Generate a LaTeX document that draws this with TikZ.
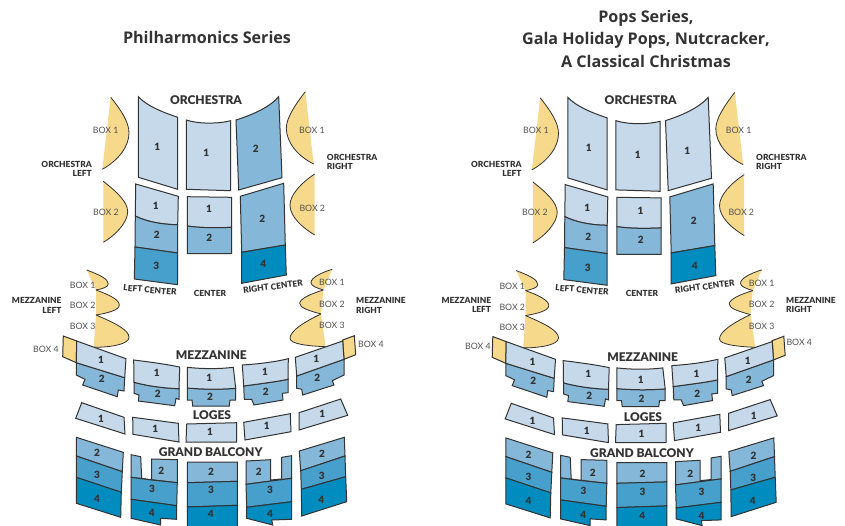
\documentclass[tikz,border=0pt]{standalone}
\usepackage{fontspec}
\setmainfont{Lato}[BoldFont={Lato Black}]
\newfontfamily\titlefont{Open Sans}

\definecolor{seatline}{HTML}{333333}
\definecolor{tierone}{HTML}{C5D9EB}
\definecolor{tiertwo}{HTML}{85B7D9}
\definecolor{tierthree}{HTML}{479FCB}
\definecolor{tierfour}{HTML}{008CBF}
\definecolor{boxfill}{HTML}{F6D98B}

\tikzset{
	seat/.style={draw=seatline,line width=1pt,fill=#1},
	boxline/.style={draw=seatline,line width=0.8pt},
	num/.style={font=\bfseries\fontsize{10}{10}\selectfont,text=seatline,inner sep=0pt},
	boxlabel/.style={font=\fontsize{8.8}{8}\selectfont,text=seatline!85,inner sep=0pt},
	seclabel/.style={font=\bfseries\fontsize{8.4}{9.8}\selectfont,text=seatline,inner sep=0pt},
	headlabel/.style={font=\bfseries\fontsize{12}{12}\selectfont,text=seatline,inner sep=0pt},
	title/.style={font=\titlefont\bfseries\fontsize{16.1}{22.5}\selectfont,text=seatline,inner sep=0pt,align=center},
}

% fill is closed, the outline stays on the curved side only
\newcommand{\boxseat}[1]{\fill[boxfill] #1 -- cycle; \draw[boxline] #1;}

% #1 colour of orchestra right, #2 its number, #3 offset of the numbers (also names them)
\newcommand{\seatchart}[3]{
	% orchestra
	\boxseat{(110.7,97.3) .. controls (121,110) and (129,122) .. (129,133) .. controls (129,146) and (119,160) .. (102.3,169.3)}
	\boxseat{(103.3,181.3) .. controls (117,192) and (127.7,202) .. (127.7,211.7) .. controls (127.7,222) and (116,235) .. (103.3,242.3)}
	\boxseat{(305.3,91.7) .. controls (295,105) and (286.3,118) .. (286.3,128.3) .. controls (286.3,143) and (299,157) .. (313.7,164)}
	\boxseat{(314.7,174) .. controls (301,183) and (290,195) .. (290,205) .. controls (290,217) and (303,228) .. (314.7,235)}
	\draw[seat=tierone] (138.3,96.7) .. controls (147,106) and (162,112) .. (177.7,117.3) -- (177.7,189.3) -- (138.3,177.3) -- cycle;
	\draw[seat=tierone] (186.3,120) .. controls (198,124) and (218,124) .. (230.7,120.7) -- (230.7,190.7) -- (186.3,189.3) -- cycle;
	\draw[seat=#1] (236,120) .. controls (252,115) and (270,107) .. (278.7,96.7) -- (282,177.7) -- (238.7,190) -- cycle;
	\draw[seat=tierone] (135.7,184) -- (178.3,196.3) -- (177.7,224.7) .. controls (160,224.5) and (145,221) .. (135.3,216) -- cycle;
	\draw[seat=tiertwo] (135.3,216) .. controls (145,221) and (160,224.5) .. (177.7,224.7) -- (177.7,253) -- (135,247) -- cycle;
	\draw[seat=tierthree] (135,247) -- (177.7,253) -- (177.7,284.7) -- (134.3,279) -- cycle;
	\draw[seat=tierone] (187.3,196.7) -- (231.7,197.3) -- (231.7,227.3) .. controls (217,228) and (200,228) .. (187.3,226) -- cycle;
	\draw[seat=tiertwo] (187.3,226) .. controls (200,228) and (217,228) .. (231.7,227.3) -- (231.7,253.7) -- (187.3,253.7) -- cycle;
	\draw[seat=tiertwo] (240.3,196.3) -- (283.7,183.3) -- (285.3,245) -- (241.7,252.3) -- cycle;
	\draw[seat=tierfour] (241.7,252.3) -- (285.3,245) -- (286.3,275) -- (241.7,283.3) -- cycle;
	% mezzanine
	\boxseat{(86.7,270) .. controls (100,275) and (108.3,279) .. (108.3,284) .. controls (108.3,287) and (102,289) .. (96,290)}
	\boxseat{(96,290) .. controls (110,295) and (119.3,300) .. (119.3,305) .. controls (119.3,310) and (108,313) .. (96,315)}
	\boxseat{(96,315) .. controls (115,323) and (129,330) .. (129,337.3) .. controls (129,344) and (112,347.3) .. (93.7,347.3)}
	\boxseat{(332.3,269.3) .. controls (320,273) and (311,278) .. (311,282.7) .. controls (311,286) and (317,288) .. (323.3,290)}
	\boxseat{(323.3,290) .. controls (310,294) and (299.7,299) .. (299.7,303.3) .. controls (299.7,308) and (310,311) .. (321,314)}
	\boxseat{(321,314) .. controls (304,322) and (290,331) .. (290,338.3) .. controls (290,344) and (308,346) .. (325.7,346.7)}
	\draw[seat=boxfill] (63.3,336) -- (76.7,341) -- (76.3,362.7) -- (62.7,356.7) -- cycle;
	\draw[seat=boxfill] (342.7,340) -- (354.3,335.7) -- (355.7,354.7) -- (344,359.3) -- cycle;
	\draw[seat=tiertwo] (76.3,362.7) -- (124.7,377.7) -- (124,391) -- (118.3,390) -- (117.3,396.7) -- (82.7,385) -- (85,379.3) -- (76.3,375) -- cycle;
	\draw[seat=tierone] (76.7,341) -- (126,358.7) -- (124.7,377.7) -- (76.3,362.7) -- cycle;
	\draw[seat=tiertwo] (134,382.3) .. controls (148,386) and (162,388) .. (179,388.7) -- (179,399.3) -- (176,398.3) -- (174.7,405.7) -- (138.3,401) -- (139,395) -- (134,393.3) -- cycle;
	\draw[seat=tierone] (133.7,360) .. controls (150,362) and (165,364) .. (179.7,367) -- (179,388.7) .. controls (162,388) and (148,386) .. (134,382.3) -- cycle;
	\draw[seat=tiertwo] (187.3,388) .. controls (205,389.5) and (220,389.5) .. (235.7,388.3) -- (235.7,400) -- (230,400) -- (229.3,406) -- (192.7,406) -- (192,400) -- (187.3,400) -- cycle;
	\draw[seat=tierone] (187.3,367.3) .. controls (202,369) and (220,369) .. (233.3,367.3) -- (235.7,388.3) .. controls (220,389.5) and (205,389.5) .. (187.3,388) -- cycle;
	\draw[seat=tiertwo] (243.7,386) .. controls (258,384) and (275,382) .. (288,379.3) -- (288,392.7) -- (282.3,393.3) -- (283,400) -- (254,405) -- (251.7,399.3) -- (244.3,399.3) -- cycle;
	\draw[seat=tierone] (242.3,365) .. controls (258,364) and (275,362) .. (288.3,358.7) -- (288,379.3) .. controls (275,382) and (258,384) .. (243.7,386) -- cycle;
	\draw[seat=tiertwo] (296.7,376) -- (344,359.3) -- (344,375) -- (332.3,380.7) -- (334,385) -- (302.7,395) -- (301.7,389.3) -- (296.7,388.3) -- cycle;
	\draw[seat=tierone] (295.3,357.3) -- (342.7,341) -- (344,359.3) -- (296.7,376) -- cycle;
	% loges
	\draw[seat=tierone] (81.7,402.7) -- (124,417.3) -- (125,434) -- (75.7,418.3) -- cycle;
	\draw[seat=tierone] (132.7,417.3) -- (178.3,423.3) -- (179,442) -- (133,434.3) -- cycle;
	\draw[seat=tierone] (186.7,424) -- (236.7,422.7) -- (236.7,442) -- (186,442) -- cycle;
	\draw[seat=tierone] (243.7,422.3) -- (290.3,413.7) -- (291,431.7) -- (245,440) -- cycle;
	\draw[seat=tierone] (299,412.7) -- (340.7,399) -- (347.7,415.3) -- (299,430) -- cycle;
	% grand balcony
	\draw[seat=tiertwo] (76.3,437.3) -- (123.3,452.3) -- (122.3,471.7) -- (76.3,456) -- cycle;
	\draw[seat=tierthree] (76.3,456) -- (122.3,471.7) -- (121.3,492.3) -- (76.3,477.3) -- cycle;
	\draw[seat=tierfour] (76.3,477.3) -- (121.3,492.3) -- (120.7,517.3) -- (76.3,503.3) -- cycle;
	\draw[seat=tiertwo] (131,454.7) -- (140.7,456.7) -- (141.7,478.3) -- (151.7,480) -- (151.7,459) -- (177.3,459.7) -- (177.3,482.7) -- (131,477.3) -- cycle;
	\draw[seat=tierthree] (131,477.3) -- (151.7,480) -- (177.3,482.7) -- (176.7,505.7) -- (131,499.3) -- cycle;
	\draw[seat=tierfour] (131,499.3) -- (176.7,505.7) -- (176.7,519.3) -- (160.7,518.3) -- (160.7,525) -- (131,518.3) -- cycle;
	\draw[seat=tiertwo] (187.3,462) -- (237.3,462) -- (237.3,481.3) -- (187.3,482.7) -- cycle;
	\draw[seat=tierthree] (187.3,482.7) -- (237.3,481.3) -- (237.3,505.3) -- (187.3,507) -- cycle;
	\draw[seat=tierfour] (187.3,507) -- (237.3,505.3) -- (237.3,532) -- (187.3,532) -- cycle;
	\draw[seat=tiertwo] (246,461) -- (270.7,459.7) -- (270.7,480) -- (281.7,478.9) -- (281.7,457.3) -- (291.7,455.7) -- (291.7,478.3) -- (246,484.3) -- cycle;
	\draw[seat=tierthree] (246,484.3) -- (291.7,478.3) -- (291.7,501.7) -- (246.7,507.3) -- cycle;
	\draw[seat=tierfour] (246.7,507.3) -- (291.7,501.7) -- (291.7,519.3) -- (271.7,520) -- (272.7,525) -- (246.7,518.3) -- cycle;
	\draw[seat=tiertwo] (299.3,451) -- (344.3,437.3) -- (345,456) -- (300.7,470.7) -- cycle;
	\draw[seat=tierthree] (300.7,470.7) -- (345,456) -- (345.7,476.7) -- (301.3,489.3) -- cycle;
	\draw[seat=tierfour] (301.3,489.3) -- (345.7,476.7) -- (346.7,501.7) -- (301.7,516) -- cycle;
	% section numbers, from a slightly different offset
	\begin{scope}[shift={(#3,#3*0.45)}]
		\foreach \x/\y/\n [count=\c] in
			{157.3/146.7/1,206.3/153.3/1,255.7/149.3/{#2},155.7/206.3/1,156.7/235.3/2,156.3/266/3,209/209/1,209.3/238.3/2,262.3/219.3/2,263.3/264.3/4,
			101/360/1,101.7/379/2,156.7/372.7/1,157.7/394.3/2,209.3/378.3/1,210/397/2,265/372.3/1,265.7/392.3/2,316.3/359.3/1,317.3/378/2,
			101/419.3/1,155.3/429.3/1,210/432/1,266.7/426/1,322.3/414/1,
			97/453.3/2,97/475/3,97/499/4,161.3/471.3/2,152/489.3/3,151.7/513.3/4,211/472.3/2,211/490/3,210.7/514.3/4,
			258.7/472.3/2,270/490/3,270/514.3/4,322/454/2,321.7/476.3/3,321.3/499.7/4}
				\node[num] (num#3-\c) at (\x,\y) {\n};
	\end{scope}
}

\begin{document}
\begin{tikzpicture}[x=1pt,y=-1pt]
	\clip (0,0) rectangle (845,525);
	\seatchart{tiertwo}{2}{0}
	\begin{scope}[shift={(429.5,0.6)}]
		\seatchart{tierone}{1}{2}
	\end{scope}

	% left chart
	\node[title] (philtitle) at (207,37) {Philharmonics Series};
	\foreach \x/\y/\xtext [count=\c] in
		{206/100/ORCHESTRA,211.3/355/MEZZANINE,212/415.3/LOGES,210.7/452.3/GRAND BALCONY}
			\node[headlabel] (philhead\c) at (\x,\y) {\xtext};
	\foreach \x/\y/\n [count=\c] in
		{105.7/130/1,312/130/1,106/212/2,312.3/208/2,
		82.7/285/1,82.7/305.7/2,82.7/326.7/3,46/349/4,332/282.7/1,332/304/2,332/325/3,371/344/4}
			\node[boxlabel] (philbox\c) at (\x,\y) {BOX \n};
	\node[seclabel,align=right,anchor=east] (philorchl) at (92,169) {ORCHESTRA\\LEFT};
	\node[seclabel,align=left,anchor=west] (philorchr) at (326.7,162) {ORCHESTRA\\RIGHT};
	\node[seclabel,align=right,anchor=east] (philmezzl) at (61.7,305.5) {MEZZANINE\\LEFT};
	\node[seclabel,align=left,anchor=west] (philmezzr) at (356,305.5) {MEZZANINE\\RIGHT};
	\node[seclabel,rotate=-5] (phillc) at (150,290) {LEFT CENTER};
	\node[seclabel] (philc) at (210,293.3) {CENTER};
	\node[seclabel,rotate=7] (philrc) at (273,286.7) {RIGHT CENTER};

	% right chart
	\node[title] (popstitle) at (646,38.5) {Pops Series,\\Gala Holiday Pops, Nutcracker,\\A Classical Christmas};
	\foreach \x/\y/\xtext [count=\c] in
		{640.7/100/ORCHESTRA,642.7/357/MEZZANINE,643/417.3/LOGES,642/453.3/GRAND BALCONY}
			\node[headlabel] (popshead\c) at (\x,\y) {\xtext};
	\foreach \x/\y/\n [count=\c] in
		{536/130/1,738.7/130/1,535/212.7/2,741.3/212.7/2,
		512.3/286/1,512.3/307/2,512.3/327.7/3,478/346/4,761.7/283.7/1,761.7/304.7/2,761.7/326/3,799.3/342.7/4}
			\node[boxlabel] (popsbox\c) at (\x,\y) {BOX \n};
	\node[seclabel,align=right,anchor=east] (popsorchl) at (521.7,169) {ORCHESTRA\\LEFT};
	\node[seclabel,align=left,anchor=west] (popsorchr) at (756,162) {ORCHESTRA\\RIGHT};
	\node[seclabel,align=right,anchor=east] (popsmezzl) at (491.3,305) {MEZZANINE\\LEFT};
	\node[seclabel,align=left,anchor=west] (popsmezzr) at (786,305) {MEZZANINE\\RIGHT};
	\node[seclabel,rotate=-5] (popslc) at (582,290) {LEFT CENTER};
	\node[seclabel] (popsc) at (642,293.3) {CENTER};
	\node[seclabel,rotate=7] (popsrc) at (704.7,286.7) {RIGHT CENTER};
\end{tikzpicture}
\end{document}
